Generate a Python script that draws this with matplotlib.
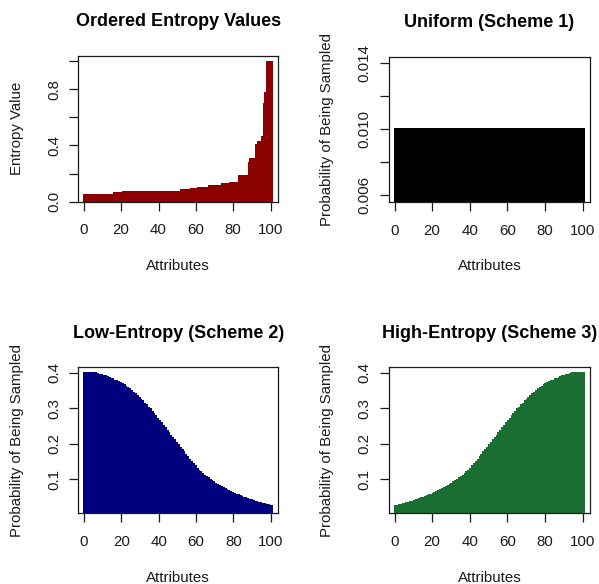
import matplotlib
matplotlib.use("Agg")
import matplotlib.pyplot as plt

plt.rcParams["font.family"] = ["Liberation Sans", "DejaVu Sans"]

attributes = list(range(1, 101))

# sorted entropy of each attribute
entropy_values = [
    0.055, 0.055, 0.055, 0.055, 0.055, 0.055, 0.055, 0.055, 0.055, 0.055,
    0.055, 0.055, 0.055, 0.055, 0.055, 0.055, 0.069, 0.069, 0.069, 0.069,
    0.069, 0.074, 0.074, 0.074, 0.074, 0.074, 0.074, 0.074, 0.074, 0.074,
    0.074, 0.074, 0.074, 0.074, 0.074, 0.074, 0.074, 0.074, 0.074, 0.074,
    0.074, 0.074, 0.074, 0.074, 0.074, 0.074, 0.074, 0.074, 0.074, 0.074,
    0.074, 0.074, 0.088, 0.088, 0.088, 0.088, 0.088, 0.097, 0.097, 0.097,
    0.097, 0.107, 0.107, 0.107, 0.107, 0.107, 0.107, 0.120, 0.120, 0.120,
    0.120, 0.120, 0.120, 0.120, 0.130, 0.130, 0.130, 0.130, 0.138, 0.138,
    0.138, 0.138, 0.138, 0.190, 0.190, 0.190, 0.190, 0.190, 0.285, 0.310,
    0.310, 0.310, 0.410, 0.435, 0.435, 0.470, 0.700, 0.780, 1.000, 1.000,
]

uniform_probs = [0.0101] * 100

low_entropy_probs = [
    0.403, 0.403, 0.403, 0.402, 0.402, 0.401, 0.400, 0.398, 0.397, 0.395,
    0.393, 0.391, 0.389, 0.386, 0.384, 0.381, 0.379, 0.377, 0.374, 0.372,
    0.368, 0.364, 0.360, 0.356, 0.352, 0.347, 0.342, 0.337, 0.332, 0.327,
    0.322, 0.316, 0.311, 0.305, 0.300, 0.293, 0.287, 0.280, 0.274, 0.267,
    0.260, 0.253, 0.247, 0.240, 0.233, 0.226, 0.219, 0.213, 0.206, 0.199,
    0.192, 0.185, 0.179, 0.172, 0.165, 0.158, 0.152, 0.145, 0.139, 0.132,
    0.127, 0.122, 0.117, 0.113, 0.109, 0.105, 0.101, 0.097, 0.094, 0.090,
    0.087, 0.084, 0.081, 0.078, 0.074, 0.072, 0.069, 0.067, 0.064, 0.061,
    0.059, 0.057, 0.055, 0.053, 0.051, 0.049, 0.047, 0.045, 0.044, 0.042,
    0.040, 0.039, 0.037, 0.036, 0.034, 0.033, 0.031, 0.030, 0.028, 0.027,
]

high_entropy_probs = [
    0.027, 0.028, 0.030, 0.031, 0.033, 0.034, 0.036, 0.037, 0.039, 0.040,
    0.042, 0.044, 0.045, 0.047, 0.049, 0.051, 0.053, 0.055, 0.057, 0.059,
    0.061, 0.064, 0.067, 0.069, 0.072, 0.074, 0.078, 0.081, 0.084, 0.087,
    0.090, 0.094, 0.097, 0.101, 0.105, 0.109, 0.113, 0.117, 0.122, 0.127,
    0.132, 0.139, 0.145, 0.152, 0.158, 0.165, 0.172, 0.179, 0.185, 0.192,
    0.199, 0.206, 0.213, 0.219, 0.226, 0.233, 0.240, 0.247, 0.253, 0.260,
    0.267, 0.274, 0.280, 0.287, 0.293, 0.300, 0.305, 0.311, 0.316, 0.322,
    0.327, 0.332, 0.337, 0.342, 0.347, 0.352, 0.356, 0.360, 0.364, 0.368,
    0.372, 0.374, 0.377, 0.379, 0.381, 0.384, 0.386, 0.389, 0.391, 0.393,
    0.395, 0.397, 0.398, 0.400, 0.401, 0.402, 0.402, 0.403, 0.403, 0.403,
]

W, H = 599, 584
fig = plt.figure(figsize=(W / 100, H / 100), dpi=100)
ink = "#1a1a1a"


def make_axes(left, top, right, bottom):
    return fig.add_axes([left / W, 1 - bottom / H, (right - left) / W, (bottom - top) / H])


panels = [
    # box (px), title, ylabel, values, colour, ylim, yticks, ytick labels
    ((78.3, 56, 278, 201.7), "Ordered Entropy Values", "Entropy Value",
     entropy_values, "#8b0000", (0.0016, 1.036),
     [0.0, 0.2, 0.4, 0.6, 0.8, 1.0], ["0.0", "", "0.4", "", "0.8", ""]),
    ((389, 57, 590, 202), "Uniform (Scheme 1)", "Probability of Being Sampled",
     uniform_probs, "black", (0.0056, 0.01436),
     [0.006, 0.008, 0.010, 0.012, 0.014], ["0.006", "", "0.010", "", "0.014"]),
    ((78.3, 367.3, 278.3, 513.3), "Low-Entropy (Scheme 2)", "Probability of Being Sampled",
     low_entropy_probs, "#00007f", (0.004, 0.4155),
     [0.1, 0.2, 0.3, 0.4], ["0.1", "0.2", "0.3", "0.4"]),
    ((389, 367.3, 590, 513.3), "High-Entropy (Scheme 3)", "Probability of Being Sampled",
     high_entropy_probs, "#1a6e32", (0.004, 0.4155),
     [0.1, 0.2, 0.3, 0.4], ["0.1", "0.2", "0.3", "0.4"]),
]

for box, title, ylabel, values, colour, ylim, yticks, ylabels in panels:
    ax = make_axes(*box)
    h_px = box[3] - box[1]
    w_px = box[2] - box[0]
    ax.bar(attributes, values, width=2.6, color=colour, linewidth=0)
    ax.set_xlim(-2.96, 103.96)
    ax.set_ylim(*ylim)
    ax.set_xticks([0, 20, 40, 60, 80, 100])
    ax.set_yticks(yticks)
    ax.set_yticklabels(ylabels, rotation=90, va="center")
    ax.tick_params(direction="out", length=6.5, width=0.9, labelsize=10.8,
                   colors=ink)
    ax.tick_params(axis="x", pad=9)
    ax.tick_params(axis="y", pad=6)
    for s in ax.spines.values():
        s.set_linewidth(0.9)
        s.set_color(ink)
    ax.set_title(title, fontsize=13, fontweight="bold", y=1 + 34.3 / h_px,
                 va="center", pad=0, color="black")
    ax.set_xlabel("Attributes", fontsize=10.8, color=ink)
    ax.xaxis.set_label_coords(0.5, -64.5 / h_px)
    ax.xaxis.label.set_va("center")
    ax.set_ylabel(ylabel, fontsize=10.8, color=ink)
    ax.yaxis.set_label_coords(-61.6 / w_px, 0.5)
    ax.yaxis.label.set_va("center")

fig.savefig("out.png", dpi=100, facecolor="white")
